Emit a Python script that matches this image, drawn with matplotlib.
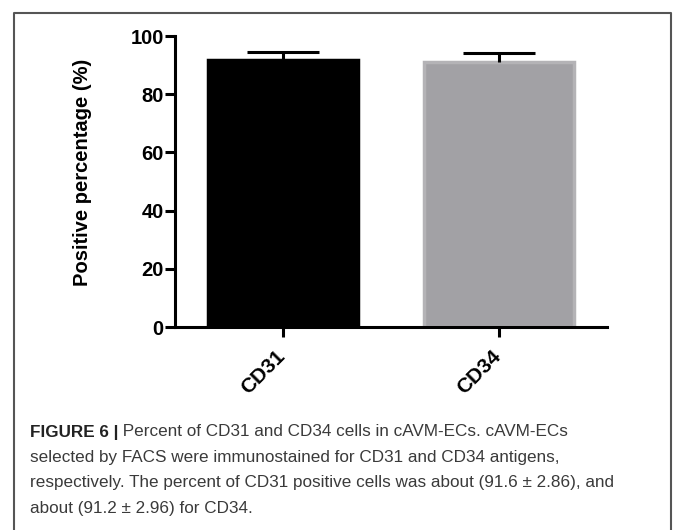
import matplotlib
matplotlib.use("Agg")
from matplotlib import pyplot as plt
from matplotlib.lines import Line2D
import matplotlib.transforms as mtransforms

categories = ["CD31", "CD34"]
means = [91.6, 91.2]
errors = [2.86, 2.96]
fill_colors = ["#000000", "#a2a1a5"]
edge_colors = ["#000000", "#b4b3b6"]
yticks = [0, 20, 40, 60, 80, 100]

caption_bold = "FIGURE 6 |"
caption_lines = [
    " Percent of CD31 and CD34 cells in cAVM-ECs. cAVM-ECs",
    "selected by FACS were immunostained for CD31 and CD34 antigens,",
    "respectively. The percent of CD31 positive cells was about (91.6 \u00b1 2.86), and",
    "about (91.2 \u00b1 2.96) for CD34.",
]


def main():
    fig = plt.figure(figsize=(6.74, 5.30), dpi=100)
    ax = fig.add_axes([0.2596, 0.383, 0.641, 0.549])

    x = list(range(len(categories)))
    ax.bar(x, means, width=0.69, color=fill_colors, edgecolor=edge_colors, linewidth=2.5, zorder=2)

    # one-sided error bars (upper only)
    tops = [m + e for m, e in zip(means, errors)]
    ax.vlines(x, means, tops, color="black", linewidth=2.2, zorder=3)
    ax.hlines(tops, [v - 0.167 for v in x], [v + 0.167 for v in x], color="black",
              linewidth=2.2, zorder=3)

    ax.set_xlim(-0.5, 1.5)
    ax.set_ylim(0, 100)
    ax.set_yticks(yticks)
    ax.set_xticks(x)
    for side in ["top", "right"]:
        ax.spines[side].set_visible(False)
    for side in ["left", "bottom"]:
        ax.spines[side].set_linewidth(2.2)
    ax.tick_params(width=2.2, length=7, direction="out", pad=1)
    ax.tick_params(axis="x", pad=4)
    ax.set_yticklabels([str(v) for v in yticks],
                       fontfamily="Liberation Sans", fontweight="bold", fontsize=14.5)
    ax.set_xticklabels(categories, rotation=45, ha="right", va="top", rotation_mode="anchor",
                       fontfamily="Liberation Sans", fontweight="bold", fontsize=15)
    offset = mtransforms.ScaledTranslation(-0.08, -0.04, fig.dpi_scale_trans)
    for lbl in ax.get_xticklabels():
        lbl.set_transform(lbl.get_transform() + offset)
    ax.set_ylabel("Positive percentage (%)", fontfamily="Liberation Sans", fontweight="bold",
                  fontsize=14.5)
    ax.yaxis.set_label_coords(-0.192, 0.53)

    # frame around the figure (no bottom edge)
    w, h = 674, 530
    fx = [14 / w, 14 / w, 671 / w, 671 / w]
    fy = [0, 1 - 13 / h, 1 - 13 / h, 0]
    fig.add_artist(Line2D(fx, fy, transform=fig.transFigure, color="#555555", linewidth=1.5))

    # caption
    cap_font = ["Liberation Sans", "DejaVu Sans"]
    y0 = 1 - 432 / h
    step = 25.5 / h
    t = fig.text(30 / w, y0, caption_bold, fontfamily=cap_font, fontweight="bold",
                 fontsize=12.3, va="center", ha="left", color="#222222")
    fig.canvas.draw()
    bb = t.get_window_extent(fig.canvas.get_renderer())
    fig.text(bb.x1 / w, y0, caption_lines[0], fontfamily=cap_font, fontsize=12.3,
             va="center", ha="left", color="#3a3a3a")
    for i, line in enumerate(caption_lines[1:], start=1):
        fig.text(30 / w, y0 - i * step, line, fontfamily=cap_font, fontsize=12.3,
                 va="center", ha="left", color="#3a3a3a")

    fig.savefig("out.png", dpi=100)


if __name__ == "__main__":
    main()
